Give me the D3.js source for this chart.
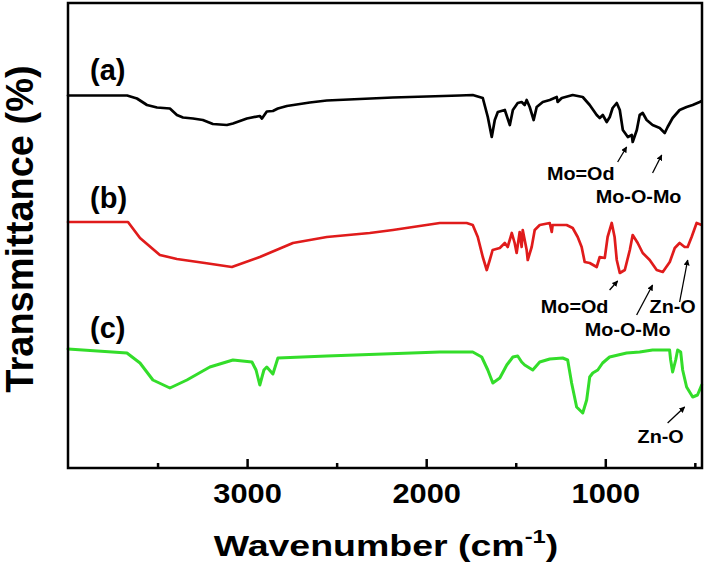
<!DOCTYPE html>
<html>
<head>
<meta charset="utf-8">
<script src="https://cdn.jsdelivr.net/npm/d3@7"></script>
<style>
  html, body { margin: 0; padding: 0; background: #fff; }
  svg { display: block; }
  text { font-family: "Liberation Sans", Arial, sans-serif; font-weight: bold; fill: #000; }
</style>
</head>
<body>
<svg id="chart" width="707" height="578"></svg>
<script>
// ---- data (wavenumber cm^-1, transmittance a.u., curves offset) ----
const seriesNames = ["(a)", "(b)", "(c)"];
const seriesColors = ["#000000", "#e01b1b", "#33dd2a"];

const seriesA = [
  [4000,74.5],[3670,74.5],[3615,73.9],[3559,72.6],[3503,72.1],[3431,71.9],[3392,70.6],[3358,70.1],
  [3302,69.9],[3247,69.6],[3191,68.8],[3113,68.6],[3079,68.9],[3001,69.9],[2929,70.4],[2917,69.9],
  [2890,71.3],[2856,71.4],[2828,71.9],[2778,72.4],[2650,73.1],[2555,73.5],[2371,73.8],[2186,74.1],
  [1997,74.3],[1813,74.5],[1740,74.6],[1684,74.0],[1656,70.2],[1634,66.2],[1617,69.6],[1600,71.2],
  [1561,71.6],[1533,68.6],[1516,71.6],[1489,73.0],[1467,73.2],[1450,72.6],[1439,73.6],[1422,72.2],
  [1400,69.6],[1383,72.2],[1349,73.2],[1310,73.6],[1271,74.2],[1266,73.2],[1243,74.0],[1182,74.6],
  [1126,74.2],[1087,72.6],[1048,70.6],[1031,70.0],[1014,70.6],[992,69.2],[975,70.2],[959,72.0],
  [936,73.0],[919,71.6],[902,67.6],[874,66.2],[852,66.6],[847,65.2],[824,67.6],[808,70.6],
  [791,71.0],[769,69.6],[736,68.6],[696,68.0],[668,67.0],[652,68.2],[624,70.0],[585,71.6],
  [546,72.2],[512,72.6],[473,73.2],[462,73.4]
];

const seriesB = [
  [4000,49.2],[3665,49.2],[3598,46.0],[3487,42.6],[3392,41.8],[3236,41.0],[3085,40.2],[2929,42.2],
  [2744,45.0],[2555,46.2],[2315,47.0],[2186,47.6],[1924,49.0],[1774,49.0],[1740,48.6],[1712,46.2],
  [1684,42.2],[1662,39.6],[1645,41.6],[1629,43.6],[1589,44.0],[1561,45.0],[1545,44.2],[1522,47.0],
  [1506,45.0],[1495,43.0],[1478,47.2],[1467,44.2],[1461,47.6],[1439,43.6],[1433,41.6],[1411,44.2],
  [1394,47.6],[1366,48.6],[1310,49.0],[1299,47.2],[1294,48.6],[1216,48.6],[1182,48.0],[1154,46.2],
  [1132,44.2],[1115,41.2],[1087,41.0],[1048,40.2],[1031,42.2],[1003,42.0],[987,46.2],[964,49.0],
  [948,46.2],[936,41.6],[919,39.0],[891,39.6],[863,43.6],[847,46.6],[819,45.0],[791,43.0],
  [752,41.6],[713,39.6],[679,39.2],[640,41.2],[612,44.0],[585,45.0],[557,44.2],[540,44.2],
  [518,46.2],[490,49.0],[462,48.6]
];

const seriesC = [
  [4000,23.8],[3671,23.0],[3598,21.0],[3526,17.6],[3431,16.0],[3336,17.6],[3208,20.2],[3079,21.6],
  [2973,21.2],[2950,19.6],[2929,16.6],[2906,19.6],[2890,20.2],[2856,18.8],[2828,22.0],[2555,22.4],
  [1924,23.2],[1740,23.2],[1690,22.2],[1656,19.6],[1628,17.0],[1589,18.0],[1550,20.6],[1516,22.2],
  [1489,22.4],[1467,21.2],[1450,20.6],[1405,19.6],[1366,21.2],[1310,21.8],[1238,22.0],[1210,21.6],
  [1188,17.0],[1160,12.2],[1126,11.0],[1104,13.6],[1087,18.2],[1070,19.0],[1042,19.6],[1015,21.0],
  [976,22.2],[881,23.0],[808,23.2],[736,23.6],[641,23.6],[635,21.6],[624,19.2],[607,21.6],
  [596,23.6],[579,23.2],[568,19.6],[546,16.2],[512,14.2],[485,14.6],[462,16.6]
];

const seriesData = [seriesA, seriesB, seriesC];

// curve labels: [wavenumber at left of text, T at baseline]
const curveLabelPos = [[3877,77.6],[3877,52.0],[3877,26.0]];

// annotations: text, series index, text centre (w,T), arrow tail (w,T), arrow head (w,T)
const annotations = [
  {text:"Mo=Od",   s:0, at:[1137,57.6], from:[931,61.2], to:[881,64.2]},
  {text:"Mo-O-Mo", s:0, at:[814,53.0],  from:[736,59.0], to:[685,62.6]},
  {text:"Mo=Od",   s:1, at:[1171,31.0], from:[976,35.6], to:[931,37.4]},
  {text:"Mo-O-Mo", s:1, at:[875,26.4],  from:[825,30.6], to:[736,36.6]},
  {text:"Zn-O",    s:1, at:[624,31.0],  from:[585,33.2], to:[540,41.6]},
  {text:"Zn-O",    s:2, at:[691,5.0],   from:[652,9.0],  to:[557,12.2]}
];

const majorTicks = [3000, 2000, 1000];
const minorTicks = [3500, 2500, 1500, 500];
const xTitle = "Wavenumber (cm";
const xTitleSup = "-1";
const yTitle = "Transmittance (%)";

// ---- layout ----
const svg = d3.select("#chart");
const plot = {left: 68, right: 702, top: 3, bottom: 468};

const x = d3.scaleLinear().domain([4000, 460]).range([plot.left, plot.right]);
const y = d3.scaleLinear().domain([0, 93]).range([plot.bottom, plot.top]);

// arrow head
const defs = svg.append("defs");
defs.append("marker")
  .attr("id", "ah")
  .attr("viewBox", "0 0 10 10")
  .attr("refX", 9).attr("refY", 5)
  .attr("markerWidth", 6).attr("markerHeight", 6)
  .attr("markerUnits", "userSpaceOnUse")
  .attr("orient", "auto")
  .append("path").attr("d", "M0,0 L10,5 L0,10 z").attr("fill", "#000");

// spectra
const line = d3.line().x(d => x(d[0])).y(d => y(d[1]));
seriesData.forEach((s, i) => {
  svg.append("path")
    .datum(s)
    .attr("d", line)
    .attr("fill", "none")
    .attr("stroke", seriesColors[i])
    .attr("stroke-width", i === 2 ? 3 : 2.7)
    .attr("stroke-linejoin", "round")
    .attr("stroke-linecap", "round");
});

// curve labels
seriesNames.forEach((n, i) => {
  svg.append("text")
    .attr("x", x(curveLabelPos[i][0]))
    .attr("y", y(curveLabelPos[i][1]))
    .attr("font-size", 29)
    .text(n);
});

// annotations
annotations.forEach(a => {
  svg.append("text")
    .attr("transform", `translate(${x(a.at[0])},${y(a.at[1])}) scale(1.1,1)`)
    .attr("text-anchor", "middle")
    .attr("font-size", 18)
    .text(a.text);
  svg.append("line")
    .attr("x1", x(a.from[0])).attr("y1", y(a.from[1]))
    .attr("x2", x(a.to[0])).attr("y2", y(a.to[1]))
    .attr("stroke", "#000").attr("stroke-width", 1.3)
    .attr("marker-end", "url(#ah)");
});

// axes
const gx = svg.append("g").attr("transform", `translate(0,${plot.bottom})`);
gx.call(d3.axisBottom(x).tickValues(majorTicks).tickSize(-9).tickPadding(15).tickFormat(d3.format("d")));
gx.select(".domain").remove();
gx.selectAll(".tick line").attr("stroke", "#000").attr("stroke-width", 2.5);
gx.selectAll(".tick text")
  .attr("font-size", 28)
  .attr("font-family", "'Liberation Sans', Arial, sans-serif")
  .attr("font-weight", "bold")
  .attr("fill", "#000")
  .attr("transform", "scale(1.1,1)");

const gxm = svg.append("g").attr("transform", `translate(0,${plot.bottom})`);
gxm.call(d3.axisBottom(x).tickValues(minorTicks).tickSize(-5).tickFormat(""));
gxm.select(".domain").remove();
gxm.selectAll(".tick line").attr("stroke", "#000").attr("stroke-width", 2.5);

// frame
svg.append("rect")
  .attr("x", plot.left).attr("y", plot.top)
  .attr("width", plot.right - plot.left).attr("height", plot.bottom - plot.top)
  .attr("fill", "none").attr("stroke", "#000").attr("stroke-width", 2.5);

// axis titles
const xt = svg.append("text")
  .attr("transform", `translate(${(plot.left + plot.right) / 2 + 1},556) scale(1.25,1)`)
  .attr("text-anchor", "middle")
  .attr("font-size", 30);
xt.append("tspan").text(xTitle);
xt.append("tspan").attr("dy", -13).attr("font-size", 19).text(xTitleSup);
xt.append("tspan").attr("dy", 13).text(")");

svg.append("text")
  .attr("transform", `translate(33,229) rotate(-90)`)
  .attr("text-anchor", "middle")
  .attr("font-size", 38)
  .text(yTitle);
</script>
</body>
</html>
